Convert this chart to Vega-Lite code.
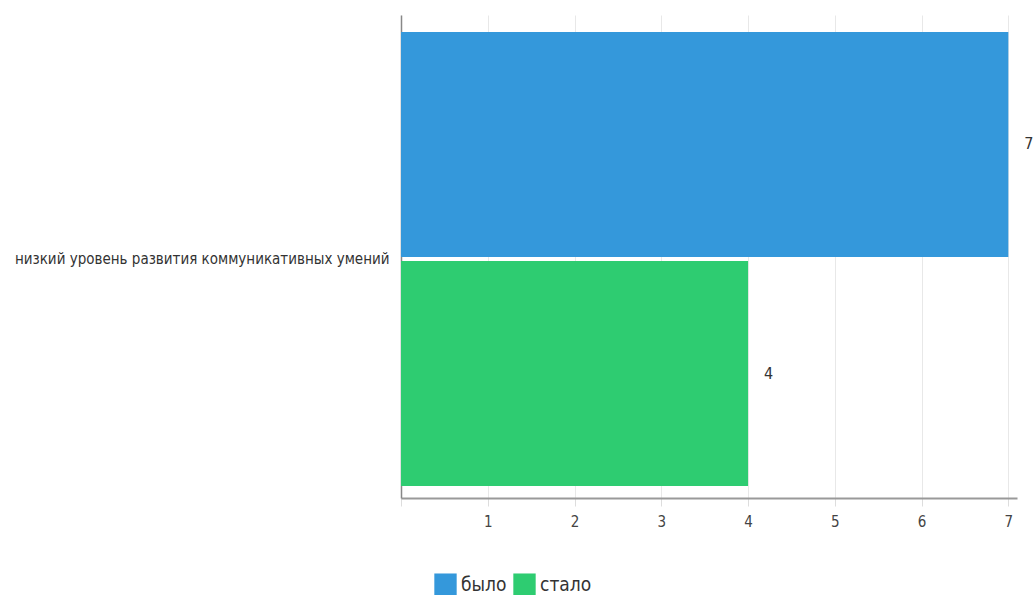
{
  "$schema": "https://vega.github.io/schema/vega-lite/v6.json",
  "width": 616,
  "height": 483,
  "autosize": {"type": "none"},
  "padding": {"left": 401, "top": 15, "right": 18, "bottom": 97},
  "background": "white",
  "config": {
    "font": "Liberation Sans Narrow, DejaVu Sans Condensed, sans-serif",
    "view": {"stroke": null}
  },
  "data": {
    "values": [
      {"category": "низкий уровень развития коммуникативных умений", "series": "было", "value": 7},
      {"category": "низкий уровень развития коммуникативных умений", "series": "стало", "value": 4}
    ]
  },
  "encoding": {
    "y": {
      "field": "category",
      "type": "nominal",
      "title": null,
      "scale": {"paddingInner": 0, "paddingOuter": 0.032, "align": 0.586},
      "axis": {
        "domainColor": "#888888",
        "domainWidth": 1.5,
        "ticks": false,
        "labelFontSize": 15,
        "labelColor": "#333333",
        "labelPadding": 12,
        "labelLimit": 500
      }
    },
    "yOffset": {
      "field": "series",
      "type": "nominal",
      "scale": {"paddingInner": 0.018, "paddingOuter": 0}
    },
    "x": {
      "field": "value",
      "type": "quantitative",
      "title": null,
      "scale": {"domain": [0, 7.1], "nice": false, "zero": true},
      "axis": {
        "values": [0, 1, 2, 3, 4, 5, 6, 7],
        "labelExpr": "datum.value == 0 ? '' : datum.label",
        "domainColor": "#999999",
        "domainWidth": 2,
        "tickColor": "#dddddd",
        "tickSize": 8,
        "gridColor": "#e8e8e8",
        "labelFontSize": 15,
        "labelColor": "#444444",
        "labelPadding": 8
      }
    }
  },
  "layer": [
    {
      "mark": {"type": "bar"},
      "encoding": {
        "color": {
          "field": "series",
          "type": "nominal",
          "scale": {"domain": ["было", "стало"], "range": ["#3498db", "#2ecc71"]},
          "legend": {
            "title": null,
            "orient": "none",
            "direction": "horizontal",
            "legendX": 33,
            "legendY": 558,
            "symbolType": "square",
            "symbolSize": 500,
            "symbolStrokeWidth": 0,
            "labelFontSize": 19,
            "labelColor": "#333333",
            "labelOffset": 4,
            "columnPadding": 6
          }
        }
      }
    },
    {
      "mark": {"type": "text", "align": "left", "dx": 16, "fontSize": 16, "color": "#333333"},
      "encoding": {
        "text": {"field": "value", "type": "quantitative"}
      }
    }
  ]
}
